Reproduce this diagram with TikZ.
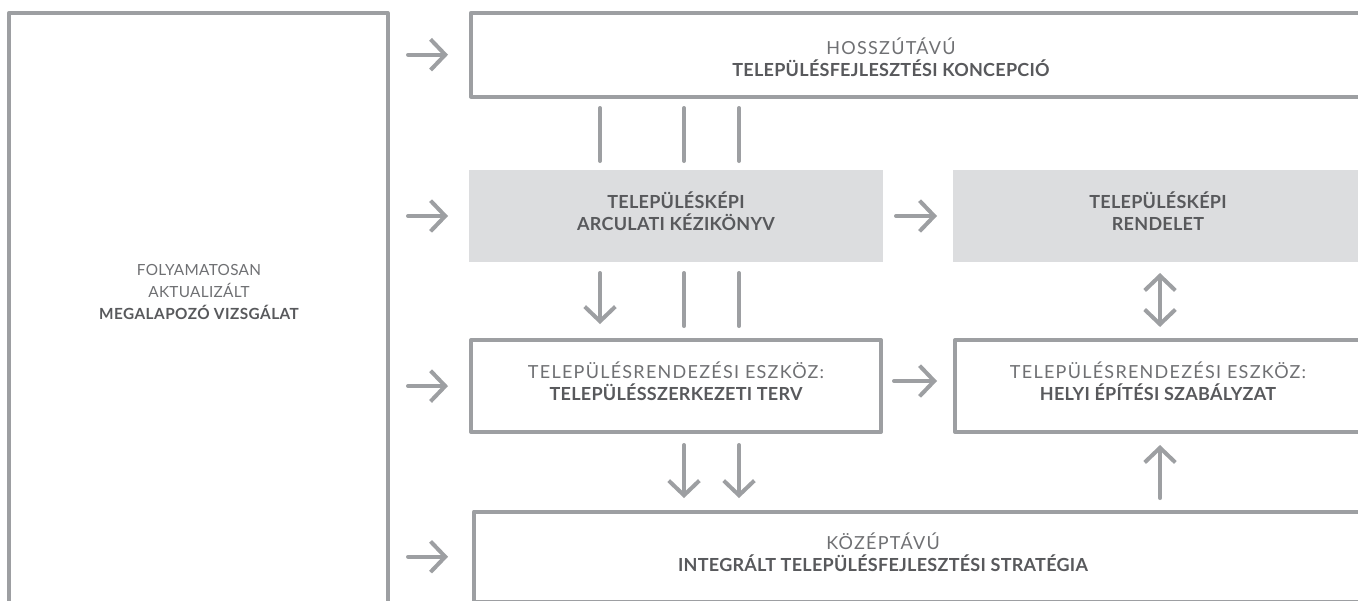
\documentclass[tikz,border=0pt]{standalone}
\usepackage{fontspec}
\setmainfont{Lato}
\newfontfamily\lightf[LetterSpace=7]{Lato}
\newfontfamily\boldf[LetterSpace=1.5]{Lato}
\newfontfamily\lightl[LetterSpace=2]{Lato}
\newfontfamily\boldl[LetterSpace=3]{Lato}
\usetikzlibrary{arrows.meta,fit}
\definecolor{ln}{HTML}{9D9FA2}
\definecolor{gf}{HTML}{DCDDDF}
\definecolor{tl}{HTML}{6F7073}
\definecolor{tb}{HTML}{58595C}
\newcommand{\lt}[1]{{\lightf #1}}
\newcommand{\bt}[1]{{\color{tb}\boldf\bfseries #1}}
\begin{document}
\begin{tikzpicture}[x=0.75pt,y=-0.75pt,
  box/.style={draw=ln, line width=3pt, inner sep=0pt, outer sep=0pt, line join=round},
  gbox/.style={fill=gf, inner sep=0pt, outer sep=0pt},
  txt/.style={align=center, font=\fontsize{13.5}{16.5}\selectfont, text=tl, inner sep=0pt},
  conn/.style={draw=ln, line width=3pt, line cap=round},
  arr/.style={conn, -{Straight Barb[length=11pt,width=23pt,line cap=butt]}},
  darr/.style={conn, {Straight Barb[length=11pt,width=23pt,line cap=butt]}-{Straight Barb[length=11pt,width=23pt,line cap=butt]}}]
\useasboundingbox (0,0) rectangle (1358,600);
\clip (0,0) rectangle (1358,600);
\fill[white] (0,0) rectangle (1358,600);
% boxes
\node[box, fit={(9.3,12.7) (387.5,620)}] (L) {};
\node[box, fit={(471,12.7) (1420,96.7)}] (T) {};
\node[gbox, fit={(469,170) (883,262)}] (G1) {};
\node[gbox, fit={(953,170) (1420,262)}] (G2) {};
\node[box, fit={(471,340.3) (881,431.8)}] (R1) {};
\node[box, fit={(955,340.3) (1420,431.8)}] (R2) {};
\node[box, fit={(474,511.5) (1420,602)}] (B) {};
% texts
\node[txt, font=\fontsize{11.5}{16.5}\selectfont] (Lt) at (199,292) {{\lightl FOLYAMATOSAN}\\{\lightl AKTUALIZÁLT}\\{\color{tb}\boldl\bfseries MEGALAPOZÓ VIZSGÁLAT}};
\node[txt] (Tt) at (891,57) {\lt{HOSSZÚTÁVÚ}\\\bt{TELEPÜLÉSFEJLESZTÉSI KONCEPCIÓ}};
\node[txt] (G1t) at (676,211) {\bt{TELEPÜLÉSKÉPI}\\\bt{ARCULATI KÉZIKÖNYV}};
\node[txt] (G2t) at (1158,211) {\bt{TELEPÜLÉSKÉPI}\\\bt{RENDELET}};
\node[txt] (R1t) at (676,381) {\lt{TELEPÜLÉSRENDEZÉSI ESZKÖZ:}\\\bt{TELEPÜLÉSSZERKEZETI TERV}};
\node[txt] (R2t) at (1158,381) {\lt{TELEPÜLÉSRENDEZÉSI ESZKÖZ:}\\\bt{HELYI ÉPÍTÉSI SZABÁLYZAT}};
\node[txt] (Bt) at (883,552) {\lt{KÖZÉPTÁVÚ}\\\bt{INTEGRÁLT TELEPÜLÉSFEJLESZTÉSI STRATÉGIA}};
% x positions
\coordinate (xa) at (600,0);
\coordinate (xb) at (684,0);
\coordinate (xc) at (739,0);
\coordinate (xd) at (1160,0);
% left arrows
\draw[arr, shorten <=15.4pt, shorten >=17.25pt] (L.east |- T.west) -- (T.west);
\draw[arr, shorten <=15.4pt, shorten >=15.75pt] (L.east |- G1.west) -- (G1.west);
\draw[arr, shorten <=15.4pt, shorten >=17.25pt] (L.east |- R1.west) -- (R1.west);
\draw[arr, shorten <=15.4pt, shorten >=19.5pt] (L.east |- B.west) -- (B.west);
% T to G1
\draw[conn, shorten <=8.5pt, shorten >=6.75pt] (T.south -| xa) -- (G1.north -| xa);
\draw[conn, shorten <=8.5pt, shorten >=6.75pt] (T.south -| xb) -- (G1.north -| xb);
\draw[conn, shorten <=8.5pt, shorten >=6.75pt] (T.south -| xc) -- (G1.north -| xc);
% G1 to R1
\draw[arr, shorten <=8.25pt, shorten >=12.2pt] (G1.south -| xa) -- (R1.north -| xa);
\draw[conn, shorten <=8.25pt, shorten >=10.7pt] (G1.south -| xb) -- (R1.north -| xb);
\draw[conn, shorten <=8.25pt, shorten >=10.7pt] (G1.south -| xc) -- (R1.north -| xc);
% horizontal
\draw[arr, shorten <=9.75pt, shorten >=12pt] (G1.east) -- (G1.east -| G2.west);
\draw[arr, shorten <=9.75pt, shorten >=13.5pt] (R1.east |- R1t) -- (R2.west |- R1t);
% G2 <-> R2
\draw[darr, shorten <=8.25pt, shorten >=10pt] (G2.south -| xd) -- (R2.north -| xd);
% R1 to B
\draw[arr, shorten <=9.9pt, shorten >=10.1pt] (R1.south -| xb) -- (B.north -| xb);
\draw[arr, shorten <=9.9pt, shorten >=10.1pt] (R1.south -| xc) -- (B.north -| xc);
% B to R2
\draw[arr, shorten <=10.1pt, shorten >=9.9pt] (B.north -| xd) -- (R2.south -| xd);
\end{tikzpicture}
\end{document}
